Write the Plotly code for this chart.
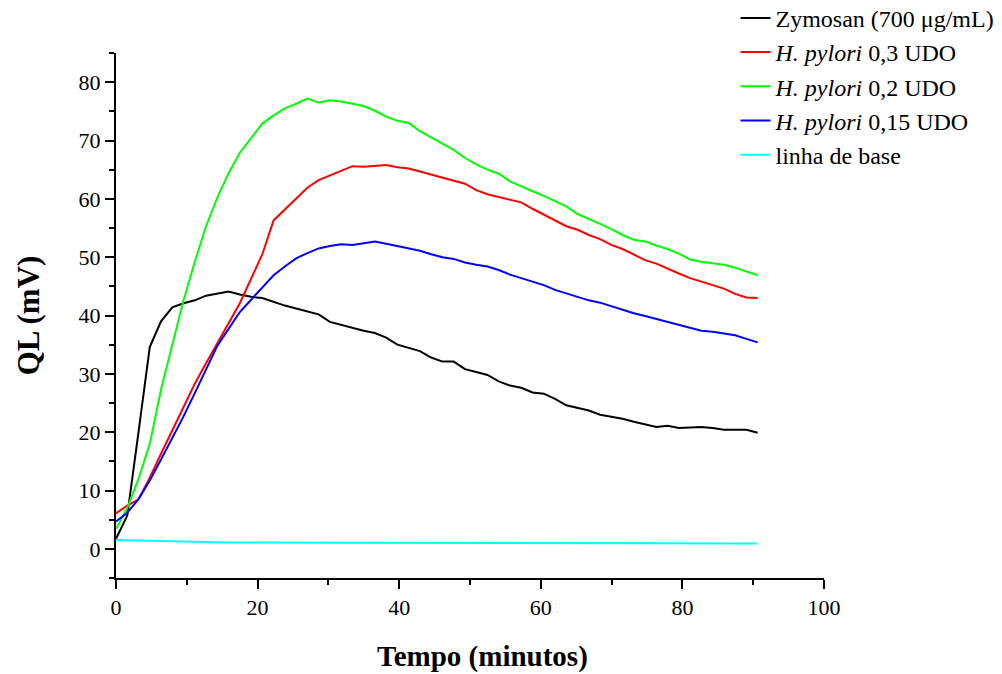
import plotly.graph_objects as go

tempo = [0, 1.59, 3.18, 4.77, 6.36, 7.95, 9.54, 11.13, 12.72, 14.31, 15.9, 17.49,
         19.08, 20.67, 22.26, 23.85, 25.44, 27.03, 28.62, 30.21, 31.8, 33.39, 34.98,
         36.57, 38.16, 39.75, 41.34, 42.93, 44.52, 46.11, 47.7, 49.29, 50.88, 52.47,
         54.06, 55.65, 57.24, 58.83, 60.42, 62.01, 63.6, 65.19, 66.78, 68.37, 69.96,
         71.55, 73.14, 74.73, 76.32, 77.91, 79.5, 81.09, 82.68, 84.27, 85.86, 87.45,
         89.04, 90.63]

zymosan = [1.7, 5.7, 20.0, 34.6, 39.0, 41.4, 42.1, 42.6, 43.4, 43.8, 44.1, 43.6,
           43.2, 43.0, 42.3, 41.7, 41.2, 40.7, 40.2, 38.9, 38.4, 37.8, 37.4, 37.0,
           36.2, 35.0, 34.4, 33.9, 32.8, 32.1, 32.1, 30.8, 30.3, 29.8, 28.7, 28.0,
           27.6, 26.8, 26.6, 25.7, 24.6, 24.1, 23.7, 23.0, 22.7, 22.3, 21.8, 21.4,
           20.9, 21.1, 20.7, 20.8, 20.9, 20.7, 20.4, 20.4, 20.4, 19.9]

hp_03 = [6.1, 7.4, 8.5, 12.2, 16.3, 20.3, 24.4, 28.3, 31.8, 35.2, 38.7, 42.1,
         46.3, 50.5, 56.3, 58.2, 60.1, 61.9, 63.2, 64.0, 64.9, 65.6, 65.5, 65.6,
         65.8, 65.4, 65.2, 64.7, 64.2, 63.6, 63.1, 62.6, 61.5, 60.8, 60.3, 59.8,
         59.4, 58.3, 57.3, 56.3, 55.3, 54.7, 53.8, 53.1, 52.1, 51.4, 50.4, 49.5,
         48.9, 48.0, 47.2, 46.4, 45.8, 45.3, 44.6, 43.7, 43.1, 43.0]

hp_02 = [3.4, 7.0, 12.0, 18.0, 27.3, 35.0, 42.6, 49.2, 55.3, 60.2, 64.4, 67.9,
         70.5, 72.9, 74.3, 75.5, 76.3, 77.2, 76.5, 76.9, 76.7, 76.3, 75.9, 75.1,
         74.1, 73.4, 73.0, 71.6, 70.5, 69.4, 68.4, 67.0, 65.9, 65.0, 64.3, 63.0,
         62.1, 61.3, 60.5, 59.6, 58.7, 57.4, 56.6, 55.7, 54.8, 53.8, 53.0, 52.7,
         52.0, 51.4, 50.6, 49.6, 49.2, 48.9, 48.7, 48.2, 47.6, 46.9]

hp_015 = [4.7, 6.2, 8.5, 11.7, 15.3, 19.0, 22.7, 26.7, 30.8, 34.8, 37.7, 40.6,
          42.7, 44.8, 46.9, 48.4, 49.8, 50.7, 51.5, 51.9, 52.2, 52.1, 52.4, 52.7,
          52.3, 51.9, 51.5, 51.1, 50.5, 50.0, 49.7, 49.1, 48.7, 48.4, 47.8, 47.0,
          46.4, 45.8, 45.2, 44.4, 43.8, 43.1, 42.6, 42.2, 41.6, 40.9, 40.4, 39.9,
          39.4, 38.8, 38.4, 37.8, 37.4, 37.2, 36.9, 36.6, 36.0, 35.4]

linha_base = [1.5, 1.45, 1.4, 1.35, 1.3, 1.25, 1.2, 1.18, 1.15, 1.12, 1.1, 1.1,
              1.08, 1.08, 1.07, 1.07, 1.06, 1.06, 1.06, 1.05, 1.05, 1.05, 1.05, 1.05,
              1.05, 1.04, 1.04, 1.04, 1.03, 1.0, 1.04, 1.1, 1.05, 1.0, 1.06, 1.04,
              1.0, 1.02, 0.98, 1.03, 1.0, 0.98, 0.98, 1.0, 1.02, 0.98, 0.97, 0.97,
              0.96, 0.96, 0.96, 0.95, 0.95, 0.95, 0.94, 0.94, 0.93, 0.93]

series = [
    ("Zymosan (700 \u03bcg/mL)", zymosan, "#000000"),
    ("<i>H. pylori</i> 0,3 UDO", hp_03, "#FF0000"),
    ("<i>H. pylori</i> 0,2 UDO", hp_02, "#00FF00"),
    ("<i>H. pylori</i> 0,15 UDO", hp_015, "#0000FF"),
    ("linha de base", linha_base, "#00FFFF"),
]

fig = go.Figure()
for name, vals, color in series:
    fig.add_trace(go.Scatter(x=tempo, y=vals, mode="lines", name=name,
                             line=dict(color=color, width=2)))

font_family = "Liberation Serif, Times New Roman, serif"
axis_common = dict(
    showline=True, linecolor="black", linewidth=2,
    showgrid=False, zeroline=False,
    ticks="outside", ticklen=9, tickwidth=2, tickcolor="black",
    tickfont=dict(family=font_family, size=22, color="black"),
)

fig.update_xaxes(
    range=[0, 100], dtick=20, tick0=0,
    minor=dict(dtick=10, ticks="outside", ticklen=5, tickwidth=2, tickcolor="black"),
    **axis_common,
)
fig.update_yaxes(
    range=[-5, 85], dtick=10, tick0=0,
    minor=dict(dtick=5, ticks="outside", ticklen=5, tickwidth=2, tickcolor="black"),
    title=dict(text="<b>QL (mV)</b>",
               font=dict(family=font_family, size=31, color="black"), standoff=30),
    **axis_common,
)

fig.add_annotation(
    text="<b>Tempo (minutos)</b>", xref="paper", yref="paper",
    x=0.517, y=-0.150, xanchor="center", yanchor="middle", showarrow=False,
    borderpad=0,
    font=dict(family=font_family, size=29, color="black"),
)

fig.update_layout(
    width=1002, height=674,
    margin=dict(l=116, r=178, t=53, b=96, autoexpand=False),
    paper_bgcolor="white", plot_bgcolor="white",
    font=dict(family=font_family, size=22, color="black"),
    legend=dict(x=0.875, y=1.109, xanchor="left", yanchor="top",
                bgcolor="rgba(0,0,0,0)", borderwidth=0,
                font=dict(family=font_family, size=24, color="black"),
                tracegroupgap=0),
    showlegend=True,
)

fig.write_html("out.html")
